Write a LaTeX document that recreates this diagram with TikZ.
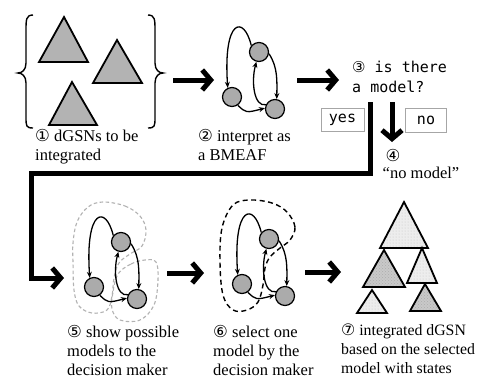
\documentclass[tikz,border=0pt]{standalone}
\usepackage{fontspec}
\setmainfont{Liberation Serif}
\newfontfamily\cdig{DejaVu Sans}
\newfontfamily\monof{DejaVu Sans Mono}
\usetikzlibrary{arrows.meta,patterns}
\newcommand\cdg[1]{{\cdig #1}}
\definecolor{trigray}{HTML}{B3B3B3}
\definecolor{nodegray}{HTML}{ABABAB}
\definecolor{lighttri}{HTML}{EDEDED}
\definecolor{darktri}{HTML}{C9C9C9}
\begin{document}
\begin{tikzpicture}[x=1pt,y=-1pt,
  bigarrow/.style={line width=5pt, -{Straight Barb[length=8.5pt,width=20pt]}},
  gnode/.style={circle, draw=black, fill=nodegray, line width=1.2pt, minimum size=19pt, inner sep=0pt},
  gedge/.style={line width=1.3pt, -{Stealth[length=6pt,width=5pt]}},
  tri1/.style={draw=black, line width=1.8pt, fill=trigray, line join=miter},
  trilight/.style={draw=black, line width=1.8pt, preaction={fill=lighttri}, pattern=dots, pattern color=gray!45},
  tridark/.style={draw=black, line width=1.8pt, preaction={fill=darktri}, pattern=crosshatch dots, pattern color=gray!65},
  txt/.style={anchor=north west, inner sep=0pt, align=left, font=\fontsize{16.5}{19}\selectfont},
  mtxt/.style={anchor=north west, inner sep=0pt, align=left, font=\monof\fontsize{15}{20}\selectfont},
  choice/.style={draw=gray!70, line width=1pt, inner sep=0pt, font=\monof\fontsize{15}{18}\selectfont},
  brace/.style={line width=1.4pt},
  grayblob/.style={draw=gray!60, line width=1.1pt, dash pattern=on 3.5pt off 2.5pt},
  blackblob/.style={draw=black, line width=1.4pt, dash pattern=on 5pt off 3.5pt}
]
\useasboundingbox (0,0) rectangle (479,378);
\fill[white] (0,0) rectangle (479,378);

% ---- step 1: braces and triangles
\draw[brace] (33,15) .. controls (26,15) and (26,20) .. (26,30) -- (26,63)
  .. controls (26,70) and (22,73) .. (18,73) .. controls (22,73) and (26,76) .. (26,83)
  -- (26,117) .. controls (26,126) and (26,128) .. (33,128);
\draw[brace] (148,15) .. controls (155,15) and (155,20) .. (155,30) -- (155,63)
  .. controls (155,70) and (159,73) .. (163,73) .. controls (159,73) and (155,76) .. (155,83)
  -- (155,117) .. controls (155,126) and (155,128) .. (148,128);
\draw[tri1] (64,17) -- (88,62) -- (39,62) -- cycle;
\draw[tri1] (117,40) -- (142,83) -- (93,83) -- cycle;
\draw[tri1] (72,82) -- (97,125) -- (49,125) -- cycle;
\node[txt] (t1) at (35,129) {\cdg{①} dGSNs to be\\integrated};

% ---- graphs (A at origin)
\newcommand\bmeaf{%
  \node[gnode] (A) at (0,0) {};
  \node[gnode] (B) at (27,-45) {};
  \node[gnode] (C) at (43,12) {};
  \draw[gedge] (B.140) .. controls (12,-82) and (-9,-79) .. (A.115);
  \draw[gedge] (A.-55) .. controls (14,16) .. (C.175);
  \draw[gedge] (B.-10) .. controls (46,-30) and (45,-15) .. (C.80);
  \draw[gedge] (C.155) .. controls (22,10) and (19,-15) .. (B.-105);
}
\begin{scope}[shift={(232,97)}, name prefix=g2-]
  \bmeaf
\end{scope}
\node[txt] (t2) at (198,129) {\cdg{②} interpret as\\a BMEAF};

% arrows top row
\coordinate (a1s) at (173,80); \coordinate (a1e) at (214,80);
\draw[bigarrow] (a1s) -- (a1e);
\coordinate (a2s) at (297,80); \coordinate (a2e) at (339,80);
\draw[bigarrow] (a2s) -- (a2e);

% ---- step 3
\node[mtxt] (t3) at (352,61) {\cdg{③} is there\\a model?};
\node[choice, minimum width=43pt, minimum height=23pt] (yes) at (342.5,120) {yes};
\node[choice, minimum width=41pt, minimum height=24pt] (no) at (426,120) {no};
\coordinate (d1) at (392,102); \coordinate (d2) at (392,142);
\draw[bigarrow] (d1) -- (d2);
\node[inner sep=0pt, font=\fontsize{16.5}{19}\selectfont] (t4a) at (393,155) {\cdg{④}};
\node[inner sep=0pt, font=\fontsize{16.5}{19}\selectfont] (t4b) at (421,173) {“no model”};

% L-shaped arrow
\coordinate (l0) at (370,102);
\coordinate (l1) at (370,173);
\coordinate (l2) at (31,173);
\coordinate (l3) at (31,278);
\coordinate (l4) at (64,278);
\draw[bigarrow, line join=miter] (l0) -- (l1) -- (l2) -- (l3) -- (l4);

% ---- step 5
\draw[grayblob] plot[smooth cycle, tension=0.6] coordinates {(103,202) (125,206) (140,216) (146,230) (142,246) (130,254) (119,263) (114,278) (112,296) (107,310) (92,313) (79,306) (74,290) (73,262) (73,243) (77,222) (88,207)};
\draw[grayblob] plot[smooth cycle, tension=0.6] coordinates {(118,274) (131,264) (145,260) (156,262) (158,280) (154,305) (140,320) (120,320) (112,309) (113,292)};
\begin{scope}[shift={(94,287)}, name prefix=g5-]
  \bmeaf
\end{scope}
\node[txt] (t5) at (67,325) {\cdg{⑤} show possible\\models to the\\decision maker};

\coordinate (a3s) at (167,273); \coordinate (a3e) at (204,273);
\draw[bigarrow] (a3s) -- (a3e);

% ---- step 6
\draw[blackblob] plot[smooth cycle, tension=0.6] coordinates {(290,240) (295,227) (287,212) (272,203) (250,200) (233,205) (222,228) (220,262) (223,295) (233,310) (247,310) (258,302) (263,285) (265,268) (270,257) (280,248)};
\begin{scope}[shift={(242,284)}, name prefix=g6-]
  \bmeaf
\end{scope}
\node[txt] (t6) at (213,325) {\cdg{⑥} select one\\model by the\\decision maker};

\coordinate (a4s) at (305,272); \coordinate (a4e) at (341,272);
\draw[bigarrow] (a4s) -- (a4e);

% ---- step 7
\draw[trilight] (404,202) -- (428,248) -- (380,248) -- cycle;
\draw[tridark] (384,250) -- (405,287) -- (363,287) -- cycle;
\draw[trilight] (422,248) -- (437,283) -- (407,283) -- cycle;
\draw[trilight] (372,290) -- (387,313) -- (357,313) -- cycle;
\draw[tridark] (425,284) -- (441,311) -- (410,311) -- cycle;
\node[txt, font=\fontsize{15.8}{19}\selectfont] (t7) at (341,324) {\cdg{⑦} integrated dGSN\\based on the selected\\model with states};
\end{tikzpicture}
\end{document}
